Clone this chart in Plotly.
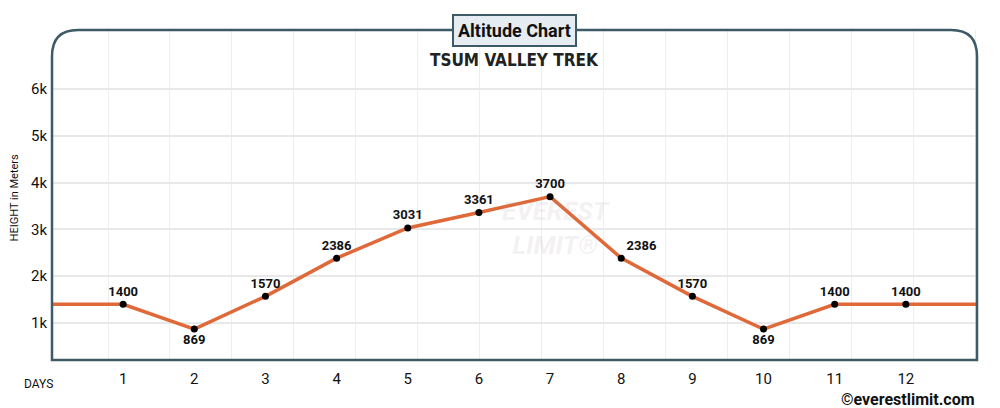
import plotly.graph_objects as go

days = [0, 1, 2, 3, 4, 5, 6, 7, 8, 9, 10, 11, 12, 13]
heights = [1400, 1400, 869, 1570, 2386, 3031, 3361, 3700, 2386, 1570, 869, 1400, 1400, 1400]
label_days = [1, 2, 3, 4, 5, 6, 7, 8, 9, 10, 11, 12]
label_heights = [1400, 869, 1570, 2386, 3031, 3361, 3700, 2386, 1570, 869, 1400, 1400]
label_pos = ["top center", "bottom center", "top center", "top center", "top center", "top center",
             "top center", "top right", "top center", "bottom center", "top center", "top center"]
y_ticks = [1000, 2000, 3000, 4000, 5000, 6000]
y_tick_text = ["1k", "2k", "3k", "4k", "5k", "6k"]

fig = go.Figure()
fig.add_trace(go.Scatter(x=days, y=heights, mode="lines",
                         line=dict(color="#e0693a", width=3.5), hoverinfo="skip"))
fig.add_trace(go.Scatter(x=label_days, y=label_heights, mode="markers+text",
                         marker=dict(color="black", size=7),
                         text=[f"<b>{v}</b>" for v in label_heights], textposition=label_pos,
                         textfont=dict(family="Roboto", size=13, color="#111")))

fig.update_layout(
    width=992, height=400, showlegend=False,
    margin=dict(l=44, r=23, t=22, b=48, autoexpand=False),
    paper_bgcolor="white", plot_bgcolor="white",
    font=dict(family="Roboto", color="#111"),
    xaxis=dict(range=[0, 13], tickvals=label_days, ticktext=[str(d) for d in label_days],
               showgrid=False, zeroline=False, ticks="", tickfont=dict(size=15),
               automargin=False, ticklabelstandoff=8,
               minor=dict(tick0=0.787, dtick=0.871, showgrid=True, gridcolor="#eeeeee")),
    yaxis=dict(range=[209, 7261], tickvals=y_ticks, ticktext=y_tick_text,
               showgrid=True, gridcolor="#e8e8e8", gridwidth=1.5, zeroline=False,
               automargin=False,
               tickfont=dict(size=15), ticks="", ticklabelstandoff=4),
)

rx, ry = 0.028, 0.08
path = (f"M 0,0 L 0,{1-ry} Q 0,1 {rx},1 L {1-rx},1 Q 1,1 1,{1-ry} L 1,0 Z")
fig.add_shape(type="path", path=path, xref="paper", yref="paper",
              line=dict(color="#3d5a66", width=2.5), fillcolor="rgba(0,0,0,0)")

fig.add_annotation(text="<b>Altitude Chart</b>", x=0.5, y=1.0, xref="paper", yref="paper",
                   xanchor="center", yanchor="middle", showarrow=False,
                   font=dict(family="Roboto", size=18, color="#111"),
                   bgcolor="#e6edf2", bordercolor="#3d5a66", borderwidth=2, borderpad=4)
fig.add_annotation(text="<b>TSUM VALLEY TREK</b>", x=0.5, y=0.91, xref="paper", yref="paper",
                   xanchor="center", yanchor="middle", showarrow=False,
                   font=dict(family="DejaVu Sans Condensed", size=17, color="#222"))
fig.add_annotation(text="HEIGHT in Meters", x=-0.041, y=0.49, xref="paper", yref="paper",
                   showarrow=False, textangle=-90, font=dict(size=11), xanchor="center")
fig.add_annotation(text="DAYS", x=-0.015, y=-0.045, xref="paper", yref="paper",
                   showarrow=False, font=dict(size=12), xanchor="center", yanchor="top")
fig.add_annotation(text="<b>©everestlimit.com</b>", x=1.0, y=-0.085, xref="paper", yref="paper",
                   showarrow=False, font=dict(size=16, color="#111"), xanchor="right", yanchor="top")
fig.add_annotation(text="<b><i>EVEREST<br>LIMIT®</i></b>", x=0.545, y=0.4, xref="paper", yref="paper",
                   showarrow=False, align="center",
                   font=dict(size=26, color="rgba(160,150,150,0.15)"))

fig.write_html("out.html")
